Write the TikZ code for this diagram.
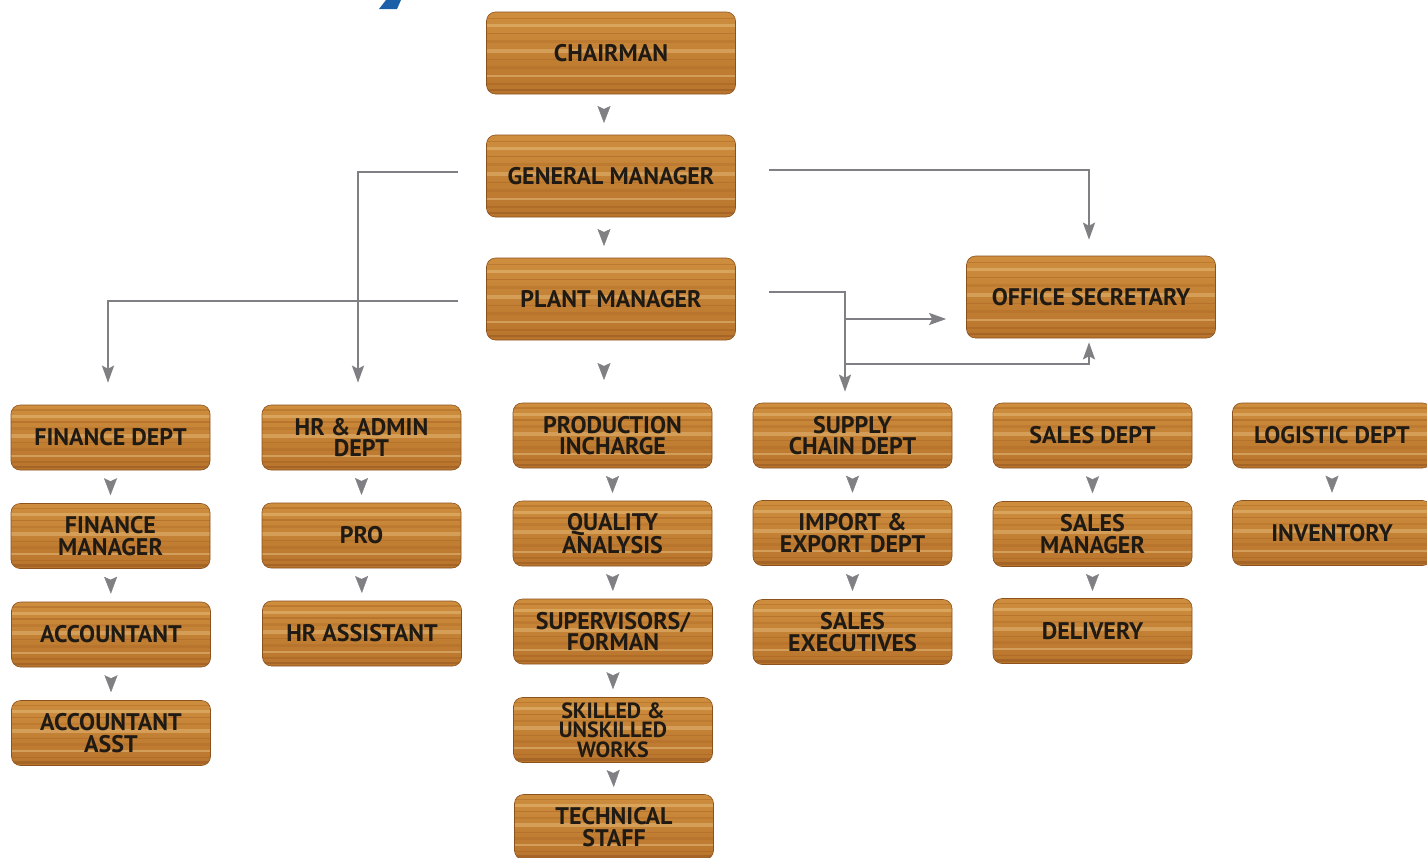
\documentclass[tikz,border=0pt]{standalone}
\usepackage{fontspec}
\newfontfamily\woodfont{PT Sans}
\usetikzlibrary{arrows.meta,calc,decorations.markings}
\definecolor{w1}{RGB}{206,142,62}
\definecolor{w2}{RGB}{238,192,112}
\definecolor{w3}{RGB}{184,116,44}
\definecolor{wedge}{RGB}{140,82,30}
\definecolor{wstreak}{RGB}{165,95,32}
\definecolor{wlight}{RGB}{252,226,168}
\definecolor{txt}{RGB}{32,26,20}
\definecolor{conncol}{RGB}{128,128,132}
\definecolor{blueink}{RGB}{26,95,168}
\tikzset{
  wood/.style={rounded corners=9pt, top color=w1, middle color=w2, bottom color=w3,
    draw=wedge, line width=0.6pt, align=center, text=txt, inner sep=0pt,
    font=\woodfont\bfseries\fontsize{24}{21.5}\selectfont,
    path picture={
      \foreach \f/\lw/\op/\c in {0.08/1.5/0.4/wstreak, 0.17/3/0.3/wlight, 0.26/1.2/0.45/wstreak,
          0.36/2.5/0.25/wstreak, 0.47/4/0.3/wlight, 0.58/1.2/0.4/wstreak, 0.68/3/0.25/wstreak,
          0.78/2/0.35/wlight, 0.88/1.5/0.45/wstreak, 0.95/2.5/0.45/wedge}{
        \draw[\c, line width=\lw pt, opacity=\op]
          ($(path picture bounding box.north west)!\f!(path picture bounding box.south west)$) --
          ($(path picture bounding box.north east)!\f!(path picture bounding box.south east)$);
      }
    }},
  bigbox/.style={wood, minimum width=249pt, minimum height=82pt},
  rowbox/.style={wood, minimum width=199pt, minimum height=65pt},
  conn/.style={draw=conncol, line width=2.2pt, -{Stealth[length=17pt,width=12pt,inset=3pt]}},
  tiny/.style={postaction={decorate}, color=conncol,
    decoration={markings, mark=at position 0.5 with {\arrow[xshift=8.5pt]{Stealth[length=17pt,width=13pt,inset=3pt]}}}}
}
\begin{document}
\begin{tikzpicture}[x=1pt,y=-1pt]
\useasboundingbox (0,0) rectangle (1427,857);
\fill[white] (0,0) rectangle (1427,857);
% blue mark at top
\fill[blueink] (379,9) -- (397,9) -- (401,0) -- (386,0) -- cycle;

% top boxes
\node[bigbox] (chair) at (611,53) {CHAIRMAN};
\node[bigbox] (gm) at (611,176) {GENERAL MANAGER};
\node[bigbox] (pm) at (611,299) {PLANT MANAGER};
\node[bigbox] (os) at (1091,297) {OFFICE SECRETARY};

% columns
\node[rowbox] (fin) at (110.5,437.5) {FINANCE DEPT};
\node[rowbox] (finm) at (110.5,536) {FINANCE\\MANAGER};
\node[rowbox] (acc) at (111,634.5) {ACCOUNTANT};
\node[rowbox] (acca) at (111,733) {ACCOUNTANT\\ASST};

\node[rowbox] (hr) at (361.5,437.5) {HR \& ADMIN\\DEPT};
\node[rowbox] (pro) at (361.5,535.5) {PRO};
\node[rowbox] (hra) at (362,633.5) {HR ASSISTANT};

\node[rowbox] (prod) at (612.5,435.5) {PRODUCTION\\INCHARGE};
\node[rowbox] (qa) at (612.5,533.5) {QUALITY\\ANALYSIS};
\node[rowbox] (supv) at (613,631.5) {SUPERVISORS/\\FORMAN};
\node[rowbox, font=\woodfont\bfseries\fontsize{22}{19.5}\selectfont] (skill) at (613,730) {SKILLED \&\\UNSKILLED\\WORKS};
\node[rowbox] (tech) at (614,827) {TECHNICAL\\STAFF};

\node[rowbox] (scd) at (852.5,435.5) {SUPPLY\\CHAIN DEPT};
\node[rowbox] (ied) at (852.5,533) {IMPORT \&\\EXPORT DEPT};
\node[rowbox] (sexe) at (852.5,632) {SALES\\EXECUTIVES};

\node[rowbox] (sd) at (1092.5,435.5) {SALES DEPT};
\node[rowbox] (smgr) at (1092.5,534) {SALES\\MANAGER};
\node[rowbox] (del) at (1092.5,631) {DELIVERY};

\node[rowbox] (log) at (1332,435.5) {LOGISTIC DEPT};
\node[rowbox] (inv) at (1332,533) {INVENTORY};

% small arrowheads between boxes
\path[tiny] ([xshift=-7pt]chair.south) -- ([xshift=-7pt]gm.north);
\path[tiny] ([xshift=-7pt]gm.south) -- ([xshift=-7pt]pm.north);
\path[tiny] ([xshift=-7pt]pm.south) -- ([xshift=-8.5pt]prod.north);
\path[tiny] (fin.south) -- (finm.north);
\path[tiny] (finm.south) -- (acc.north);
\path[tiny] (acc.south) -- (acca.north);
\path[tiny] (hr.south) -- (pro.north);
\path[tiny] (pro.south) -- (hra.north);
\path[tiny] (prod.south) -- (qa.north);
\path[tiny] (qa.south) -- (supv.north);
\path[tiny] (supv.south) -- (skill.north);
\path[tiny] (skill.south) -- (tech.north);
\path[tiny] (scd.south) -- (ied.north);
\path[tiny] (ied.south) -- (sexe.north);
\path[tiny] (sd.south) -- (smgr.north);
\path[tiny] (smgr.south) -- (del.north);
\path[tiny] (log.south) -- (inv.north);

% long connectors
\coordinate (gmL) at (458,172);
\coordinate (gmR) at (769,170);
\coordinate (pmL) at (458,301);
\coordinate (pmR) at (769,292);
\coordinate (j1) at (845,319);
\coordinate (j2) at (845,364);
\draw[conn, shorten >=22pt] (gmL) -| ([xshift=-3.5pt]hr.north);
\draw[conn, shorten >=16pt] (gmR) -| ([xshift=-2pt]os.north);
\draw[conn, shorten >=22pt] (pmL) -| ([xshift=-2.5pt]fin.north);
\draw[conn, shorten >=11pt] (pmR) -| ([xshift=-7.5pt]scd.north);
\draw[conn, shorten >=20pt] (j1) -- (j1 -| os.west);
\draw[conn, shorten >=4pt] (j2) -| ([xshift=-2pt]os.south);
\end{tikzpicture}
\end{document}
